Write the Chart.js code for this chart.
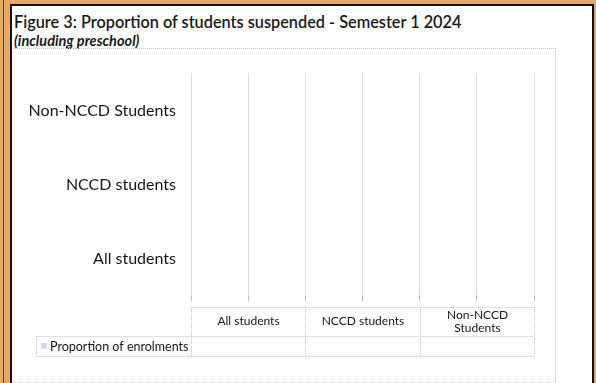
<!DOCTYPE html>
<html>
<head>
<meta charset="utf-8">
<script src="https://cdn.jsdelivr.net/npm/chart.js@4.4.1/dist/chart.umd.min.js"></script>
<style>
  html, body { margin: 0; padding: 0; }
  body { width: 596px; height: 383px; overflow: hidden; position: relative; background: #e6a965; font-family: Lato, "Open Sans", sans-serif; }
  #edge { position: absolute; left: 3px; top: 0; width: 1px; height: 383px; background: #5a4632; }
  #frame { position: absolute; left: 10px; top: 4px; width: 580px; height: 390px; border: 2px solid #111; background: #fff; }
  #title { position: absolute; left: 2px; top: 5px; font-size: 17.5px; font-weight: 600; color: #1a1a1a; white-space: nowrap; transform-origin: 0 0; transform: scaleX(0.93); }
  #subtitle { position: absolute; left: 2px; top: 26px; font-size: 14.5px; font-weight: 700; font-style: italic; color: #1a1a1a; white-space: nowrap; }
  #box { position: absolute; left: 1px; top: 42px; width: 542px; height: 333px; border-top: 1px dotted #c3c6cc; border-right: 1px dotted #c3c6cc; border-bottom: 1px dotted #c3c6cc; }
  canvas { position: absolute; left: 0; top: 0; }
</style>
</head>
<body>
<div id="edge"></div>
<div id="frame">
  <div id="title">Figure 3: Proportion of students suspended - Semester 1 2024</div>
  <div id="subtitle">(including preschool)</div>
  <div id="box"><canvas id="chart" width="542" height="333"></canvas></div>
</div>
<script>
// categories and series, in table order (left to right)
var categories = ['All students', 'NCCD students', 'Non-NCCD Students'];
var tableLabels = [['All students'], ['NCCD students'], ['Non-NCCD', 'Students']];
var seriesName = 'Proportion of enrolments';
var proportionOfEnrolments = [null, null, null];   // no values reported
var valueTicks = [0, 1, 2, 3, 4, 5, 6];

var gridColor = 'rgba(160,166,178,0.75)';
var cellColor = 'rgba(175,180,190,0.8)';

// data table under the plot, columns follow the value axis
var dataTable = {
  id: 'dataTable',
  afterDraw: function(chart){
    var ctx = chart.ctx, area = chart.chartArea;
    var x = chart.scales.x;
    var n = categories.length;
    var step = (valueTicks[valueTicks.length-1] - valueTicks[0]) / n;
    var top = area.bottom + 11, mid = top + 29, bot = mid + 20;
    var legendLeft = 23;
    ctx.save();
    ctx.strokeStyle = cellColor;
    ctx.lineWidth = 1;
    ctx.setLineDash([1, 1]);
    function line(x1, y1, x2, y2){
      ctx.beginPath(); ctx.moveTo(x1, y1); ctx.lineTo(x2, y2); ctx.stroke();
    }
    var cols = [];
    for (var i = 0; i <= n; i++) cols.push(Math.round(x.getPixelForValue(valueTicks[0] + i*step)) + 0.5);
    line(cols[0], top + 0.5, cols[n], top + 0.5);
    line(legendLeft + 0.5, mid + 0.5, cols[n], mid + 0.5);
    line(legendLeft + 0.5, bot + 0.5, cols[n], bot + 0.5);
    cols.forEach(function(c){ line(c, top, c, bot); });
    line(legendLeft + 0.5, mid, legendLeft + 0.5, bot);

    ctx.setLineDash([]);
    ctx.fillStyle = '#161616';
    ctx.font = '12px Lato';
    ctx.textAlign = 'center';
    ctx.textBaseline = 'middle';
    tableLabels.forEach(function(lines, i){
      var cx = (cols[i] + cols[i+1]) / 2;
      lines.forEach(function(t, j){
        ctx.fillText(t, cx, (top + mid)/2 + (j - (lines.length-1)/2) * 13);
      });
      var v = proportionOfEnrolments[i];
      if (v !== null) ctx.fillText(v + '%', cx, (mid + bot)/2);
    });
    // legend key
    ctx.fillStyle = '#cddbeb';
    ctx.fillRect(legendLeft + 5, (mid + bot)/2 - 3, 6, 6);
    ctx.fillStyle = '#161616';
    ctx.textAlign = 'left';
    ctx.font = '12.5px Lato';
    ctx.fillText(seriesName, legendLeft + 14, (mid + bot)/2 + 0.5);
    ctx.restore();
  }
};

new Chart(document.getElementById('chart'), {
  type: 'bar',
  data: {
    labels: categories,
    datasets: [{
      label: seriesName,
      data: proportionOfEnrolments,
      backgroundColor: '#9fbbdc'
    }]
  },
  options: {
    indexAxis: 'y',
    responsive: false,
    animation: false,
    layout: { padding: { top: 23, right: 21, bottom: 81, left: 0 } },
    plugins: { legend: { display: false }, tooltip: { enabled: false } },
    scales: {
      x: {
        min: valueTicks[0],
        max: valueTicks[valueTicks.length-1],
        ticks: { display: false, stepSize: 1 },
        grid: { color: gridColor, lineWidth: 1, tickLength: 5, drawTicks: true },
        border: { display: false, dash: [1, 1] }
      },
      y: {
        reverse: true,
        afterFit: function(scale){ scale.width = 178; },
        grid: { display: false, drawTicks: false },
        border: { display: false },
        ticks: { color: '#161616', font: { family: 'Lato', size: 16 }, padding: 15 }
      }
    }
  },
  plugins: [dataTable]
});
</script>
</body>
</html>
